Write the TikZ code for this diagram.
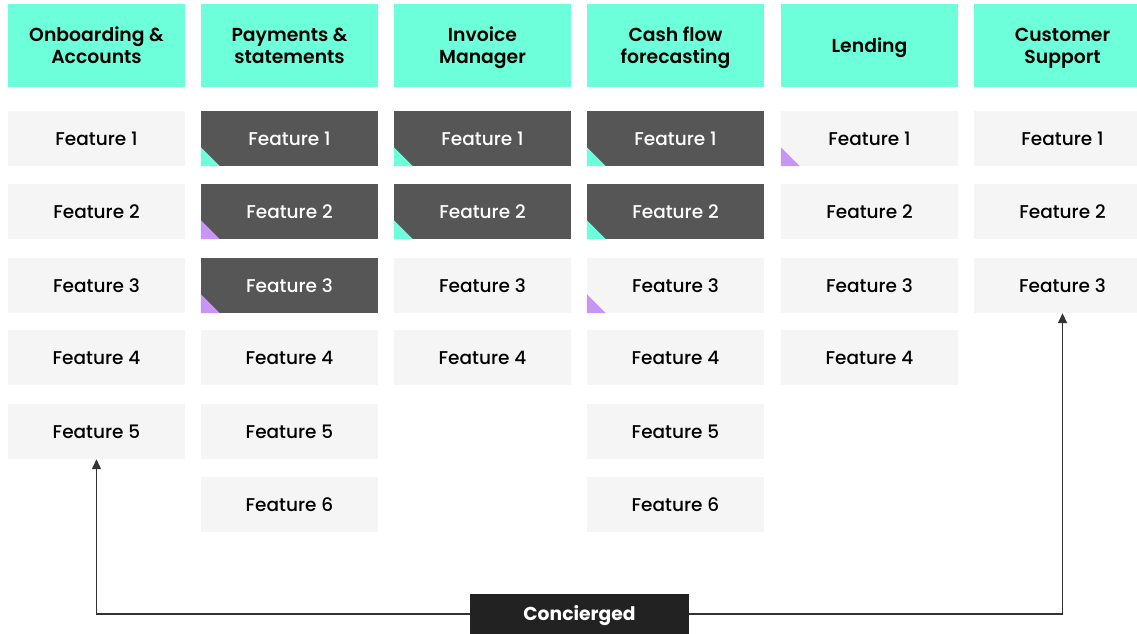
\documentclass[tikz,border=0pt]{standalone}
\usepackage{fontspec}
\setmainfont{Poppins}
\IfFontExistsTF{Poppins Medium}{\newfontfamily\featfont{Poppins Medium}}{\newfontfamily\featfont{Poppins}}
\IfFontExistsTF{Poppins SemiBold}{\newfontfamily\headfont{Poppins SemiBold}}{\newfontfamily\headfont{Poppins}[UprightFont=*-Bold]}
\usepackage{xcolor}
\definecolor{headteal}{HTML}{6CFFD9}
\definecolor{featlight}{HTML}{F5F5F5}
\definecolor{featdark}{HTML}{565656}
\definecolor{cornerteal}{HTML}{6CFFD9}
\definecolor{cornerpurple}{HTML}{C895F5}
\definecolor{boxblack}{HTML}{222222}
\definecolor{linegray}{HTML}{333333}
\usetikzlibrary{arrows.meta, positioning}

\tikzset{
    header/.style={fill=headteal, minimum width=177pt, minimum height=83pt, inner sep=0pt,
        align=center, font=\fontsize{18.8}{22}\headfont, text=black, text depth=0pt},
    featbox/.style={fill=featlight, minimum width=177pt, minimum height=55pt, inner sep=0pt,
        font=\fontsize{18.5}{22}\featfont, text=black, text depth=0pt, text height=14pt},
    featdarkbox/.style={featbox, fill=featdark, text=white},
    tealmark/.style={fill=cornerteal},
    purplemark/.style={fill=cornerpurple},
}

\begin{document}
\begin{tikzpicture}[x=1pt, y=-1pt, >={Triangle[length=10pt, width=9pt]}]
    \useasboundingbox (0,0) rectangle (1137,634);
    \begin{scope}
    \clip (0,0) rectangle (1137,634);

    % headers
    \node[header] (h1) at (96.5,45.5) {Onboarding \&\\Accounts};
    \node[header] (h2) at (289.5,45.5) {Payments \&\\statements};
    \node[header] (h3) at (482.5,45.5) {Invoice\\Manager};
    \node[header] (h4) at (675.5,45.5) {Cash flow\\forecasting};
    \node[header] (h5) at (869.5,45.5) {Lending};
    \node[header] (h6) at (1062.5,45.5) {Customer\\Support};

    % onboarding
    \node[featbox] (a1) at (96.5,138.5) {Feature 1};
    \node[featbox] (a2) at (96.5,211.5) {Feature 2};
    \node[featbox] (a3) at (96.5,285.5) {Feature 3};
    \node[featbox] (a4) at (96.5,357.5) {Feature 4};
    \node[featbox] (a5) at (96.5,431.5) {Feature 5};

    % payments
    \node[featdarkbox] (b1) at (289.5,138.5) {Feature 1};
    \node[featdarkbox] (b2) at (289.5,211.5) {Feature 2};
    \node[featdarkbox] (b3) at (289.5,285.5) {Feature 3};
    \node[featbox] (b4) at (289.5,357.5) {Feature 4};
    \node[featbox] (b5) at (289.5,431.5) {Feature 5};
    \node[featbox] (b6) at (289.5,504.5) {Feature 6};

    % invoices
    \node[featdarkbox] (c1) at (482.5,138.5) {Feature 1};
    \node[featdarkbox] (c2) at (482.5,211.5) {Feature 2};
    \node[featbox] (c3) at (482.5,285.5) {Feature 3};
    \node[featbox] (c4) at (482.5,357.5) {Feature 4};

    % cash flow
    \node[featdarkbox] (d1) at (675.5,138.5) {Feature 1};
    \node[featdarkbox] (d2) at (675.5,211.5) {Feature 2};
    \node[featbox] (d3) at (675.5,285.5) {Feature 3};
    \node[featbox] (d4) at (675.5,357.5) {Feature 4};
    \node[featbox] (d5) at (675.5,431.5) {Feature 5};
    \node[featbox] (d6) at (675.5,504.5) {Feature 6};

    % lending
    \node[featbox] (e1) at (869.5,138.5) {Feature 1};
    \node[featbox] (e2) at (869.5,211.5) {Feature 2};
    \node[featbox] (e3) at (869.5,285.5) {Feature 3};
    \node[featbox] (e4) at (869.5,357.5) {Feature 4};

    % support
    \node[featbox] (f1) at (1062.5,138.5) {Feature 1};
    \node[featbox] (f2) at (1062.5,211.5) {Feature 2};
    \node[featbox] (f3) at (1062.5,285.5) {Feature 3};

    % corner marks
    \fill[tealmark] (b1.south west) -- ++(0,-19) -- ++(19,19) -- cycle;
    \fill[purplemark] (b2.south west) -- ++(0,-19) -- ++(19,19) -- cycle;
    \fill[purplemark] (b3.south west) -- ++(0,-19) -- ++(19,19) -- cycle;
    \fill[tealmark] (c1.south west) -- ++(0,-19) -- ++(19,19) -- cycle;
    \fill[tealmark] (c2.south west) -- ++(0,-19) -- ++(19,19) -- cycle;
    \fill[tealmark] (d1.south west) -- ++(0,-19) -- ++(19,19) -- cycle;
    \fill[tealmark] (d2.south west) -- ++(0,-19) -- ++(19,19) -- cycle;
    \fill[purplemark] (d3.south west) -- ++(0,-19) -- ++(19,19) -- cycle;
    \fill[purplemark] (e1.south west) -- ++(0,-19) -- ++(19,19) -- cycle;

    % concierged
    \node[fill=boxblack, text=white, minimum width=219pt, minimum height=40pt, inner sep=0pt,
        font=\fontsize{18.7}{22}\selectfont\bfseries, text height=13pt, text depth=0pt] (conc) at (579.5,614) {Concierged};
    \draw[->, linegray, line width=1.4pt] (conc.west) -| (a5.south);
    \draw[->, linegray, line width=1.4pt] (conc.east) -| (f3.south);
    \end{scope}
\end{tikzpicture}
\end{document}
